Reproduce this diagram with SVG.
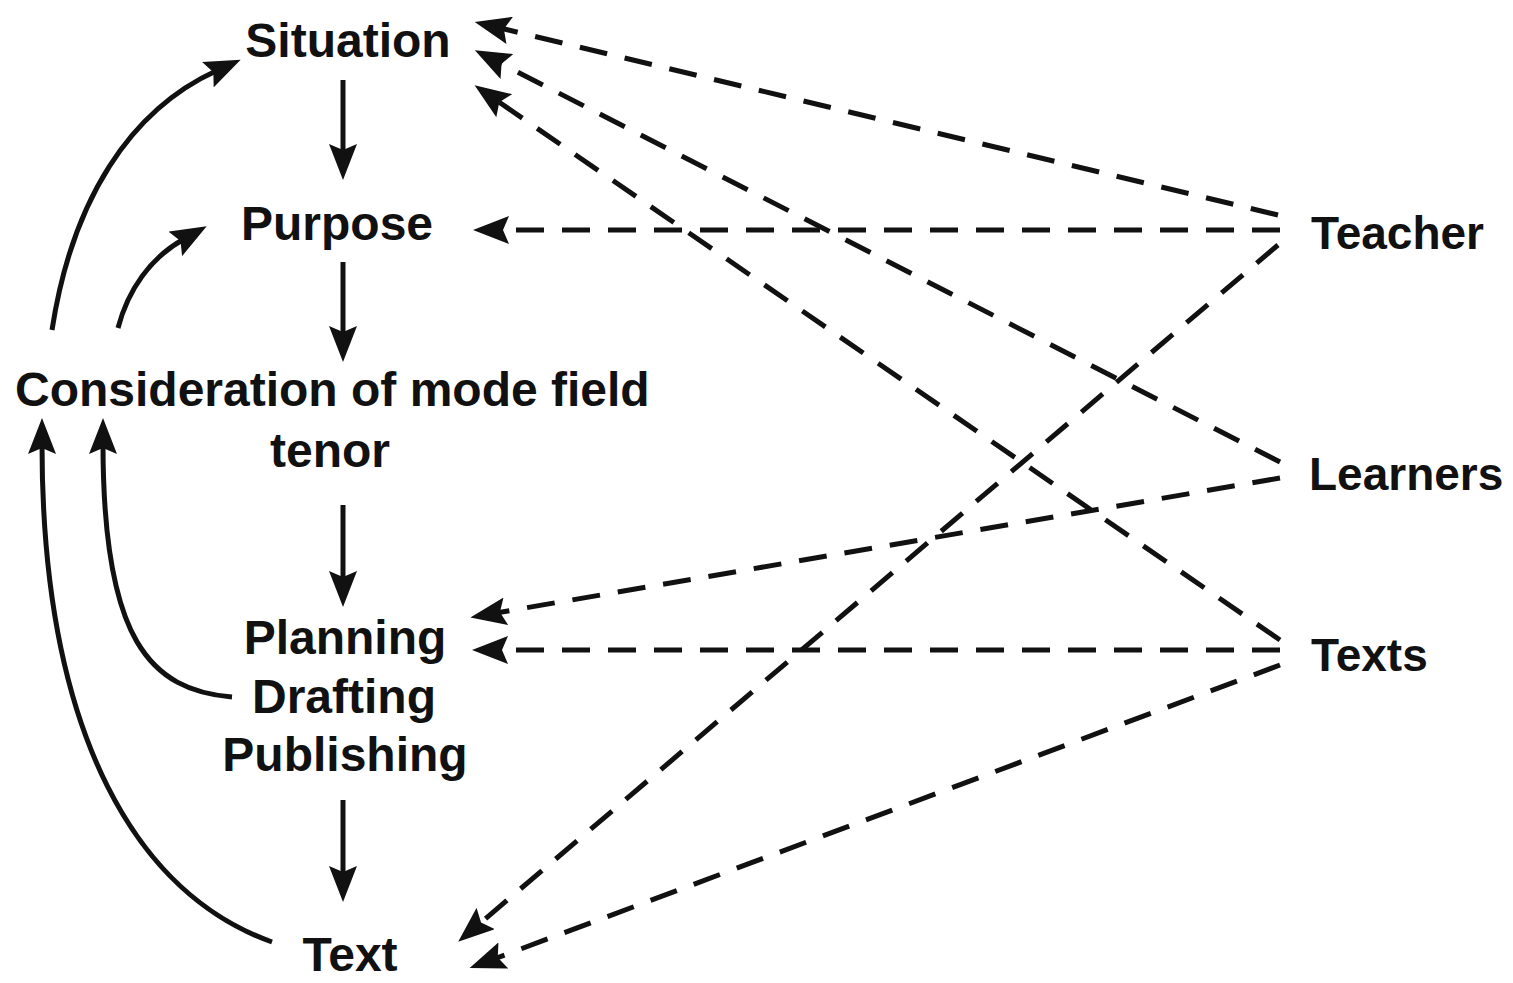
<svg xmlns="http://www.w3.org/2000/svg" width="1513" height="983" viewBox="0 0 1513 983">
<style>
.lbl{font-family:"Liberation Sans",Arial,sans-serif;font-weight:bold;font-size:48px;fill:#111}
.rl{font-size:46px}
.solid{fill:none;stroke:#111;stroke-width:5}
.dash{fill:none;stroke:#111;stroke-width:5;stroke-dasharray:28 18}
</style>
<defs>
<marker id="ah" viewBox="0 0 36 28" markerWidth="36" markerHeight="28" refX="10" refY="14" orient="auto" markerUnits="userSpaceOnUse">
<path d="M0,0 L36,14 L0,28 L6,14 z" fill="#111"/>
</marker>
</defs>
<rect width="1513" height="983" fill="#fff"/>
<g id="connectors">
<path class="solid" d="M343,80 L343,154" marker-end="url(#ah)"/>
<path class="solid" d="M343,262 L343,336" marker-end="url(#ah)"/>
<path class="solid" d="M343,505 L343,581" marker-end="url(#ah)"/>
<path class="solid" d="M343,800 L343,876" marker-end="url(#ah)"/>
<path class="solid" d="M52,330 C72,200 130,110 217,70.5" marker-end="url(#ah)"/>
<path class="solid" d="M118,328 C128,290 150,258 184,239" marker-end="url(#ah)"/>
<path class="solid" d="M232,697 C150,690 103,640 103,444" marker-end="url(#ah)"/>
<path class="solid" d="M272,942 C140,895 42,740 42,444" marker-end="url(#ah)"/>
<path class="dash" d="M1278,215 L500,28" marker-end="url(#ah)"/>
<path class="dash" d="M1280,462 L498,62" marker-end="url(#ah)"/>
<path class="dash" d="M1280,640 L496,100" marker-end="url(#ah)"/>
<path class="dash" d="M1280,230 L499,230" marker-end="url(#ah)"/>
<path class="dash" d="M1278,245 L478,925" marker-end="url(#ah)"/>
<path class="dash" d="M1280,478 L496,613" marker-end="url(#ah)"/>
<path class="dash" d="M1280,650 L498,650" marker-end="url(#ah)"/>
<path class="dash" d="M1280,665 L494,959" marker-end="url(#ah)"/>
</g>
<g id="situation"><text class="lbl" x="348" y="57" text-anchor="middle">Situation</text></g>
<g id="purpose"><text class="lbl" x="337" y="240" text-anchor="middle">Purpose</text></g>
<g id="consideration"><text class="lbl" x="15" y="406">Consideration of mode field</text><text class="lbl" x="330" y="467" text-anchor="middle">tenor</text></g>
<g id="process"><text class="lbl" x="345" y="654" text-anchor="middle">Planning</text><text class="lbl" x="344" y="713" text-anchor="middle">Drafting</text><text class="lbl" x="345" y="771" text-anchor="middle">Publishing</text></g>
<g id="text"><text class="lbl" x="350" y="971" text-anchor="middle">Text</text></g>
<g id="teacher"><text class="lbl rl" x="1311" y="249">Teacher</text></g>
<g id="learners"><text class="lbl rl" x="1309" y="490">Learners</text></g>
<g id="texts"><text class="lbl rl" x="1311" y="671">Texts</text></g>
</svg>
